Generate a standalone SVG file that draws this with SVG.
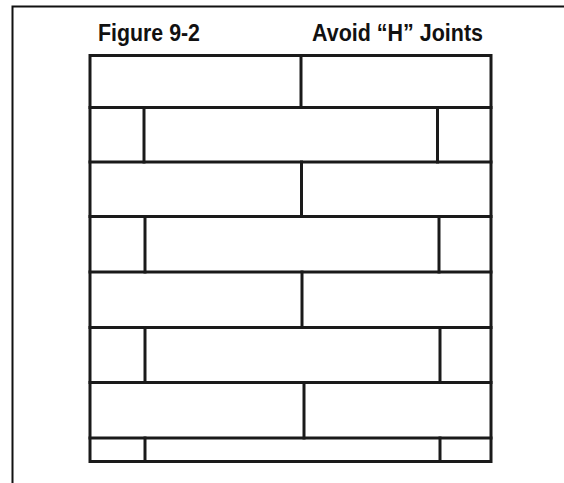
<svg xmlns="http://www.w3.org/2000/svg" width="564" height="483" viewBox="0 0 564 483">
<style>
.frame{stroke:#111;stroke-width:2;fill:none}
.brick{stroke:#1a1a1a;stroke-width:3;fill:none;stroke-linecap:square}
.title{font-family:"Liberation Sans",Arial,sans-serif;font-weight:bold;font-size:24.5px;fill:#111}
</style>
<rect width="564" height="483" fill="#fff"/>
<g id="frame">
<path class="frame" d="M12.5,483 V6.5 H564"/>
</g>
<g id="titles">
<text class="title" x="98" y="40.5" textLength="102" lengthAdjust="spacingAndGlyphs">Figure 9-2</text>
<text class="title" x="312" y="40.5" textLength="171" lengthAdjust="spacingAndGlyphs">Avoid “H” Joints</text>
</g>
<g id="wall">
<rect class="brick" x="90" y="55.5" width="401" height="406"/>
<g id="courses">
<line class="brick" x1="90" y1="107.5" x2="491" y2="107.5"/>
<line class="brick" x1="90" y1="162" x2="491" y2="162"/>
<line class="brick" x1="90" y1="216.5" x2="491" y2="216.5"/>
<line class="brick" x1="90" y1="272" x2="491" y2="272"/>
<line class="brick" x1="90" y1="327.5" x2="491" y2="327.5"/>
<line class="brick" x1="90" y1="382.5" x2="491" y2="382.5"/>
<line class="brick" x1="90" y1="438" x2="491" y2="438"/>
</g>
<g id="joints">
<line class="brick" x1="301" y1="55.5" x2="301" y2="107.5"/>
<line class="brick" x1="144" y1="107.5" x2="144" y2="162"/>
<line class="brick" x1="437.5" y1="107.5" x2="437.5" y2="162"/>
<line class="brick" x1="301.5" y1="162" x2="301.5" y2="216.5"/>
<line class="brick" x1="145" y1="216.5" x2="145" y2="272"/>
<line class="brick" x1="439" y1="216.5" x2="439" y2="272"/>
<line class="brick" x1="302" y1="272" x2="302" y2="327.5"/>
<line class="brick" x1="145" y1="327.5" x2="145" y2="382.5"/>
<line class="brick" x1="440" y1="327.5" x2="440" y2="382.5"/>
<line class="brick" x1="304" y1="382.5" x2="304" y2="438"/>
<line class="brick" x1="145" y1="438" x2="145" y2="461.5"/>
<line class="brick" x1="440" y1="438" x2="440" y2="461.5"/>
</g>
</g>
</svg>
